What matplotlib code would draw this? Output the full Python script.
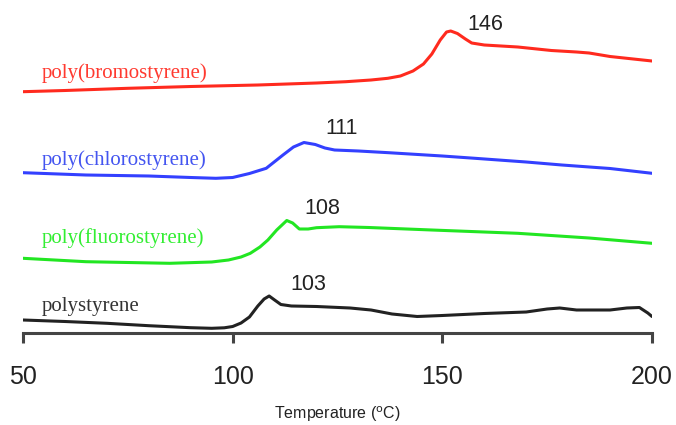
import matplotlib
matplotlib.use('Agg')
import matplotlib.pyplot as plt

# DSC traces, heat flow in arbitrary units
t_ps = [50, 60, 70, 80, 90, 95, 98, 100, 102, 104, 106, 107.5, 108.7, 110, 111.5, 114,
        120, 128, 133, 138, 144, 150, 160, 170, 175, 178, 182, 190, 194, 197, 199, 200]
hf_ps = [13, 11.5, 9.7, 7.3, 5.3, 4.7, 5.2, 6.5, 10, 16, 27, 34, 37, 33, 28.5, 27,
         26.5, 25, 23, 19, 16.5, 17.5, 19.5, 21, 24, 25, 23, 23, 25, 25.5, 20, 16.5]

t_pf = [50, 65, 85, 95, 99, 102, 104.2, 106.5, 108.4, 110.5, 112.9, 114.3, 115.9, 118,
        120, 125.4, 132.5, 147.5, 168, 185, 200]
hf_pf = [74.7, 71.3, 69.7, 71, 73, 76, 79.7, 86, 93, 103, 112.5, 110, 104, 104,
         105.3, 106.3, 105.5, 103, 99.7, 95, 89.7]

t_pcl = [50, 65, 80, 90, 96, 100, 104, 108, 112, 114.5, 117, 119.7, 122, 124.3, 130,
         137.2, 150, 157.8, 170, 178.5, 190, 200]
hf_pcl = [160.3, 158, 157, 155.5, 154.7, 155.5, 159.5, 164.7, 178, 186, 190.5, 188.5,
          185, 183, 182, 180.3, 177, 174.7, 171, 168, 164.5, 159.7]

t_pbr = [50, 60, 75, 90, 106, 120, 127, 133, 137, 140, 143, 145.5, 147.5, 149.5, 151,
         152, 153.6, 155.5, 157, 160, 168, 176, 182, 185, 190, 200]
hf_pbr = [241.3, 242.5, 244.7, 246.5, 248, 250, 251.3, 253, 254.7, 257, 262, 269, 279,
          293, 301, 302, 299.5, 294, 290, 288, 286, 282.5, 281, 280, 276.5, 272]

names = ['polystyrene', 'poly(fluorostyrene)', 'poly(chlorostyrene)', 'poly(bromostyrene)']
tg = ['103', '108', '111', '146']
colores = ['#222222', '#22e622', '#3340ff', '#ff2a1e']
label_col = ['#333333', '#33ee33', '#4455f0', '#ff3a30']
label_y = [26.3, 95, 173, 260]
tg_pos = [(118, 48), (121.3, 124.7), (126, 204.7), (160.3, 309)]

fig = plt.figure(figsize=(6.76, 4.25), dpi=100)
ax = fig.add_axes([23 / 676, 1 - 333 / 425, 629 / 676, 333 / 425])

curvas = [(t_ps, hf_ps), (t_pf, hf_pf), (t_pcl, hf_pcl), (t_pbr, hf_pbr)]
for i in range(4):
    t, hf = curvas[i]
    ax.plot(t, hf, color=colores[i], lw=2.2, solid_capstyle='round', solid_joinstyle='round')
    ax.text(54.5, label_y[i], names[i], color=label_col[i], fontsize=15,
            family='Liberation Serif', ha='left', va='center')
    ax.text(tg_pos[i][0], tg_pos[i][1], tg[i], color='#222222', fontsize=15.5,
            family='Liberation Sans', ha='center', va='center')

ax.set_xlim(50, 200)
ax.set_ylim(0, 333)
ax.set_xticks([50, 100, 150, 200])
ax.set_yticks([])
for s in ['left', 'right', 'top']:
    ax.spines[s].set_visible(False)
ax.spines['bottom'].set_color('#444444')
ax.spines['bottom'].set_linewidth(2.2)
ax.tick_params(axis='x', direction='out', length=7, width=2.2, color='#444444',
               pad=16, labelsize=18, labelcolor='#222222')
for lab in ax.get_xticklabels():
    lab.set_family('Liberation Sans')
ax.set_xlabel('Temperature ($^{\\rm o}$C)', fontsize=11.5, family='Liberation Sans',
              color='#222222', labelpad=11)

fig.savefig('out.png', dpi=100)
